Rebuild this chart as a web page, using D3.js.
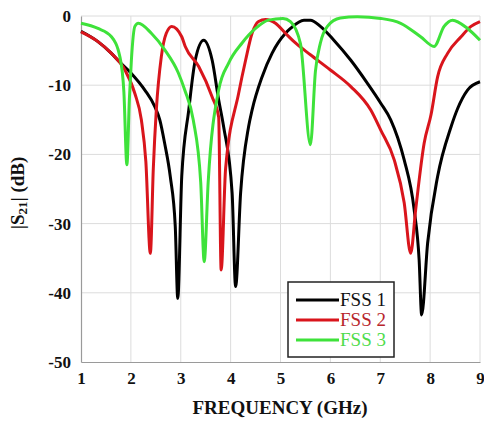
<!DOCTYPE html>
<html>
<head>
<meta charset="utf-8">
<script src="https://cdn.jsdelivr.net/npm/d3@7"></script>
<style>
  body { margin: 0; background: #fff; }
  svg text { font-family: "Liberation Serif", "DejaVu Serif", serif; }
</style>
</head>
<body>
<script>
// frequency (GHz) / |S21| (dB)
const fss1F = [1, 1.34, 1.61, 1.74, 2.01, 2.28, 2.48, 2.58, 2.68, 2.79, 2.89, 2.94, 3.02, 3.16, 3.29, 3.46, 3.63, 3.76, 3.86, 4.03, 4.1, 4.2, 4.36, 4.43, 4.63, 4.83, 5.1, 5.2, 5.47, 5.6, 5.8, 6.07, 6.41, 6.74, 7.01, 7.21, 7.35, 7.48, 7.68, 7.78, 7.83, 7.95, 8.15, 8.42, 8.55, 8.75, 9];
const fss1DB = [-2.2, -3.7, -5.4, -6.4, -8.3, -10.7, -13.1, -15, -18.5, -23.2, -30.4, -40.8, -23.2, -13.6, -6.4, -3.5, -6.4, -12.1, -16, -25.6, -39.1, -25.6, -16, -13.6, -8.8, -5.4, -2.5, -1.8, -0.6, -0.6, -1.5, -3.5, -6.4, -9.7, -12.6, -15, -17.6, -20.8, -28, -35.3, -43.2, -32.8, -23.2, -16, -13.4, -10.7, -9.5];

const fss2F = [1, 1.34, 1.61, 1.88, 2.08, 2.21, 2.3, 2.39, 2.45, 2.51, 2.61, 2.71, 2.82, 3.02, 3.09, 3.36, 3.63, 3.76, 3.81, 3.9, 4.16, 4.3, 4.43, 4.56, 4.7, 4.9, 5.1, 5.3, 5.6, 6.0, 6.41, 6.81, 7.01, 7.28, 7.48, 7.61, 7.71, 7.88, 8.02, 8.15, 8.35, 8.62, 8.82, 9];
const fss2DB = [-2.3, -3.7, -5.4, -7.8, -11.2, -15, -21, -34.3, -22, -13.6, -5.9, -2.5, -1.5, -3.0, -4.4, -7.3, -11.7, -14.6, -36.7, -22, -11.2, -6.4, -2.5, -0.8, -0.5, -1.05, -2.5, -3.9, -5.6, -7.8, -10.2, -13.6, -16.5, -20.8, -27, -34.3, -28, -18.4, -14.2, -8.8, -5.4, -3, -1.5, -0.8];

const fss3F = [1, 1.34, 1.61, 1.78, 1.86, 1.92, 1.97, 2.01, 2.08, 2.15, 2.41, 2.68, 2.95, 3.08, 3.25, 3.4, 3.47, 3.55, 3.76, 3.96, 4.23, 4.5, 4.76, 5.05, 5.2, 5.4, 5.6, 5.7, 5.8, 5.94, 6.2, 6.54, 7.01, 7.41, 7.81, 8.08, 8.28, 8.45, 8.75, 9];
const fss3DB = [-1.05, -1.8, -3.0, -5.9, -11, -21.5, -12, -6.4, -1.5, -1.05, -2.5, -4.9, -8.2, -10.7, -15, -24, -35.5, -24, -10.7, -6.8, -3.9, -1.8, -0.6, -0.35, -0.8, -4, -18.6, -8, -3.9, -1.5, -0.3, -0.1, -0.35, -1.05, -3, -4.4, -1.5, -0.6, -1.8, -3.5];

const seriesNames = ['FSS 1', 'FSS 2', 'FSS 3'];
const seriesColors = ['#000000', '#d9151c', '#3ee23a'];
const legendColors = ['#111111', '#b8262c', '#4fdc4b'];
const xTicks = [1, 2, 3, 4, 5, 6, 7, 8, 9];
const yTicks = [0, -10, -20, -30, -40, -50];

const series = [
  fss1F.map((f, i) => [f, fss1DB[i]]),
  fss2F.map((f, i) => [f, fss2DB[i]]),
  fss3F.map((f, i) => [f, fss3DB[i]])
];

const width = 484;
const height = 421;
const margin = { top: 16, right: 4, bottom: 59, left: 81 };

const x = d3.scaleLinear().domain([1, 9]).range([margin.left, width - margin.right]);
const y = d3.scaleLinear().domain([-50, 0]).range([height - margin.bottom, margin.top]);

const svg = d3.select('body').append('svg')
  .attr('width', width)
  .attr('height', height);

// grid
svg.append('g')
  .selectAll('line')
  .data(xTicks.slice(1))
  .enter().append('line')
  .attr('x1', d => x(d)).attr('x2', d => x(d))
  .attr('y1', y(0)).attr('y2', y(-50))
  .attr('stroke', '#dcdcdc')
  .attr('stroke-width', 1);
svg.append('g')
  .selectAll('line')
  .data(yTicks.slice(0, -1))
  .enter().append('line')
  .attr('x1', x(1)).attr('x2', x(9))
  .attr('y1', d => y(d)).attr('y2', d => y(d))
  .attr('stroke', '#dcdcdc')
  .attr('stroke-width', 1);

// axes (left + bottom)
const xAxis = svg.append('g')
  .attr('transform', `translate(0,${y(-50)})`)
  .call(d3.axisBottom(x).tickValues(xTicks).tickSize(0).tickPadding(10).tickFormat(d => String(d)));
const yAxis = svg.append('g')
  .attr('transform', `translate(${x(1)},0)`)
  .call(d3.axisLeft(y).tickValues(yTicks).tickSize(0).tickPadding(10).tickFormat(d => String(d)));

[xAxis, yAxis].forEach(g => {
  g.select('.domain').attr('stroke', '#9a9a9a').attr('stroke-width', 1.2);
  g.selectAll('text')
    .attr('font-weight', 'bold')
    .attr('font-size', 17)
    .attr('fill', '#111');
});

// curves
const line = d3.line()
  .x(d => x(d[0]))
  .y(d => y(d[1]))
  .curve(d3.curveMonotoneX);

svg.append('g')
  .selectAll('path')
  .data(series)
  .enter().append('path')
  .attr('d', line)
  .attr('fill', 'none')
  .attr('stroke', (d, i) => seriesColors[i])
  .attr('stroke-width', 3)
  .attr('stroke-linejoin', 'round');

// axis titles
svg.append('text')
  .attr('x', 280)
  .attr('y', 414)
  .attr('text-anchor', 'middle')
  .attr('font-weight', 'bold')
  .attr('font-size', 19)
  .attr('fill', '#111')
  .text('FREQUENCY (GHz)');

const yTitle = svg.append('text')
  .attr('transform', 'translate(24,193) rotate(-90)')
  .attr('text-anchor', 'middle')
  .attr('font-weight', 'bold')
  .attr('font-size', 19)
  .attr('fill', '#111');
yTitle.append('tspan').text('|S');
yTitle.append('tspan').attr('font-size', 13).attr('dy', 3).text('21');
yTitle.append('tspan').attr('dy', -3).text('| (dB)');

// legend
const legend = svg.append('g').attr('transform', 'translate(288,282)');
legend.append('rect')
  .attr('width', 106).attr('height', 75)
  .attr('fill', '#fff')
  .attr('stroke', '#222')
  .attr('stroke-width', 1.5);
const rows = legend.selectAll('g.row')
  .data(seriesNames)
  .enter().append('g')
  .attr('class', 'row')
  .attr('transform', (d, i) => `translate(0,${18 + i * 20})`);
rows.append('line')
  .attr('x1', 8).attr('x2', 51)
  .attr('stroke', (d, i) => seriesColors[i])
  .attr('stroke-width', 3);
rows.append('text')
  .attr('x', 52)
  .attr('dy', 6)
  .attr('font-size', 19)
  .attr('fill', (d, i) => legendColors[i])
  .text(d => d);
</script>
</body>
</html>
